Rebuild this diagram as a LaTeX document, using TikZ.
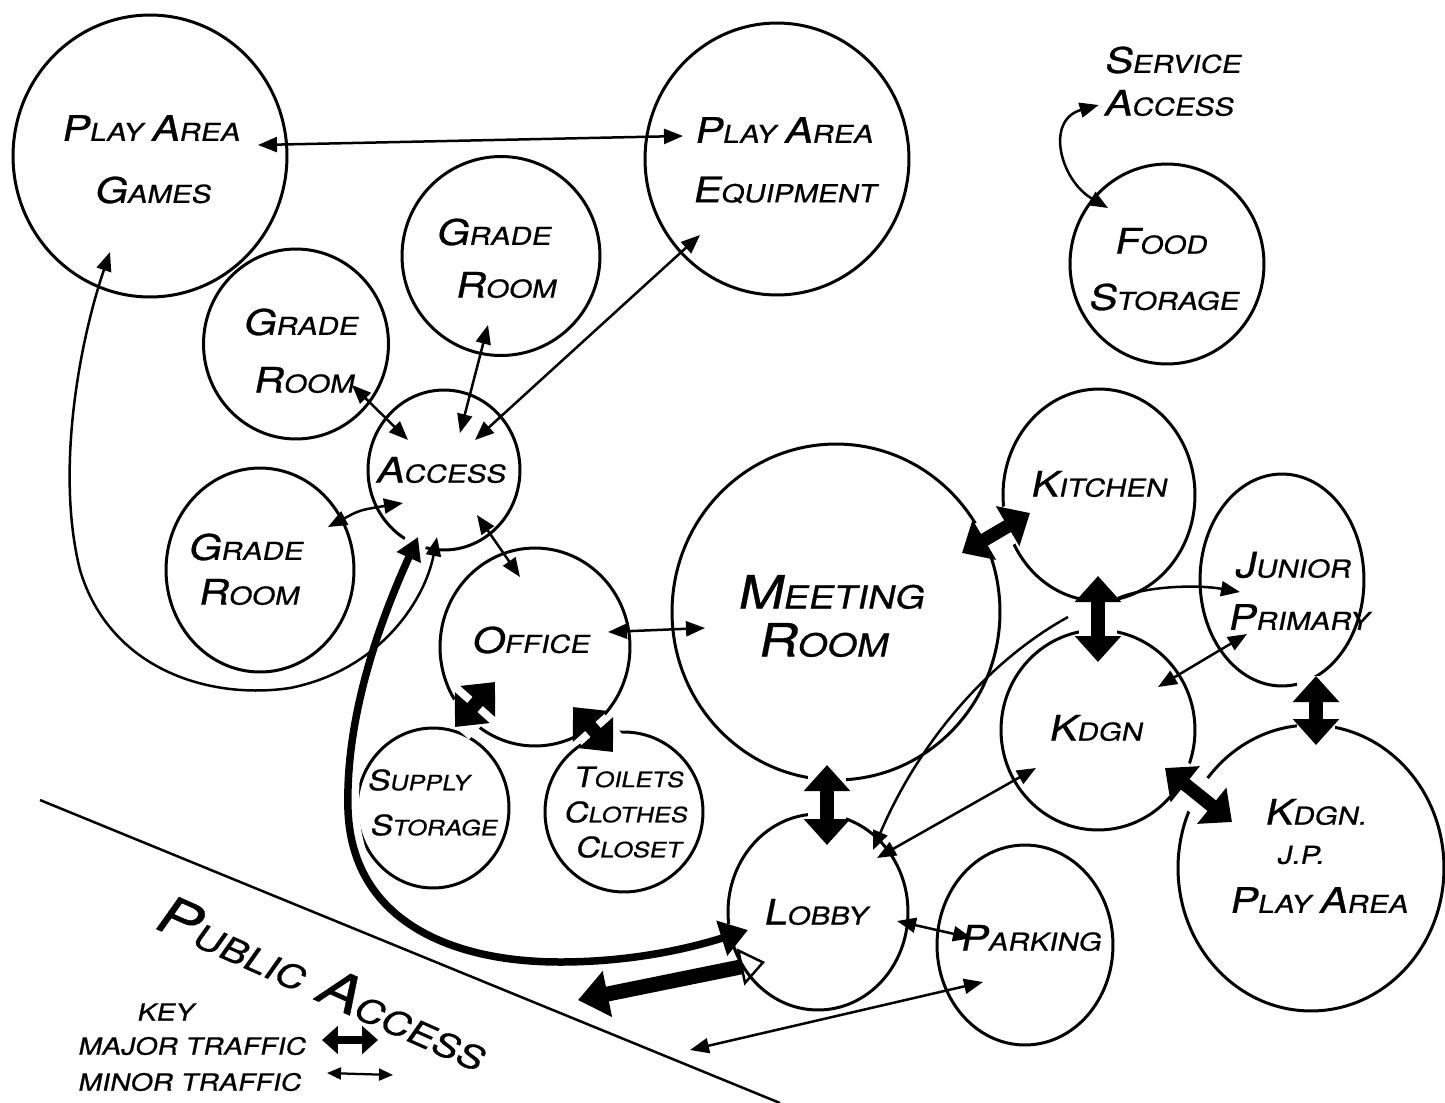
\documentclass[tikz,border=0pt]{standalone}
\usepackage{fontspec}
\setmainfont{TeX Gyre Heros}[FakeStretch=1.2,FakeSlant=0.2,FakeBold=0.8]
\usetikzlibrary{shapes.geometric,arrows.meta,calc}
\newcommand\Ca[1]{{\fontsize{20}{20}\selectfont #1}}
\newcommand\Cb[1]{{\fontsize{26}{26}\selectfont #1}}
\newcommand\Cs[1]{{\fontsize{16}{16}\selectfont #1}}
\newcommand\Cp[1]{{\fontsize{30}{30}\selectfont #1}}
\tikzset{
  room/.style={draw, ellipse, line width=0.06cm, inner sep=0pt},
  lbl/.style={inner sep=0pt, font=\fontsize{14}{14}\selectfont},
  lblbig/.style={inner sep=0pt, font=\fontsize{18}{18}\selectfont},
  lblsmall/.style={inner sep=0pt, font=\fontsize{12}{12}\selectfont},
  lblkey/.style={inner sep=0pt, font=\fontsize{13.5}{13.5}\selectfont},
  minor/.style={line width=0.05cm, {Triangle[length=0.38cm,width=0.3cm]}-{Triangle[length=0.38cm,width=0.3cm]}},
  minorend/.style={line width=0.05cm, -{Triangle[length=0.38cm,width=0.3cm]}},
  major/.style={line width=0.27cm, {Triangle[length=0.52cm,width=0.9cm]}-{Triangle[length=0.52cm,width=0.9cm]}, preaction={draw=white, line width=0.75cm, -}},
  openmajor/.style={line width=0.3cm, {Triangle[open,line width=1.4pt,length=0.5cm,width=0.75cm]}-{Triangle[length=0.6cm,width=0.9cm]}},
  mainroute/.style={line width=0.15cm, {Triangle[length=0.45cm,width=0.5cm]}-{Triangle[length=0.55cm,width=0.7cm]}, preaction={draw=white, line width=0.45cm, -}},
  keymajor/.style={line width=0.16cm, {Triangle[length=0.32cm,width=0.55cm]}-{Triangle[length=0.32cm,width=0.55cm]}},
  keyminor/.style={line width=0.045cm, {Triangle[length=0.28cm,width=0.24cm]}-{Triangle[length=0.28cm,width=0.24cm]}},
}
\begin{document}
\begin{tikzpicture}[x=0.02cm,y=-0.02cm]
\useasboundingbox (0,0) rectangle (1445,1103);
\fill[white] (0,0) rectangle (1445,1103);
% public access boundary
\coordinate (pl1) at (40,800);
\coordinate (pl2) at (780,1103);
\draw[line width=0.05cm] (pl1) -- (pl2);
% rooms
\node[room, minimum width=5.48cm, minimum height=5.64cm] (pag) at (150,156) {};
\node[room, minimum width=5.28cm, minimum height=5.44cm] (pae) at (777,159) {};
\node[room, minimum width=3.96cm, minimum height=3.98cm] (gr1) at (501,256) {};
\node[room, minimum width=3.70cm, minimum height=3.80cm] (gr2) at (296,344) {};
\node[room, minimum width=3.04cm, minimum height=3.20cm] (acc) at (444,470) {};
\node[room, minimum width=3.76cm, minimum height=4.08cm] (gr3) at (260,570) {};
\node[room, minimum width=3.80cm, minimum height=3.96cm] (off) at (535,647) {};
\node[room, minimum width=3.04cm, minimum height=3.20cm] (sup) at (433,808) {};
\node[room, minimum width=3.16cm, minimum height=3.20cm] (toi) at (624,812) {};
\node[room, minimum width=6.56cm, minimum height=6.72cm] (mtg) at (836,612) {};
\node[room, minimum width=3.84cm, minimum height=4.24cm] (kit) at (1099,495) {};
\node[room, minimum width=3.88cm, minimum height=4.00cm] (food) at (1167,264) {};
\node[room, minimum width=3.28cm, minimum height=4.24cm] (jp) at (1282,580) {};
\node[room, minimum width=3.88cm, minimum height=4.00cm] (kdg) at (1098,730) {};
\node[room, minimum width=5.32cm, minimum height=5.72cm] (kjp) at (1311,868) {};
\node[room, minimum width=3.60cm, minimum height=3.92cm] (lob) at (818,912) {};
\node[room, minimum width=3.52cm, minimum height=4.00cm] (park) at (1025,945) {};
% service access label (used as an arrow end)
\node[lbl] (svc1) at (1172,60) {\Ca{S}ERVICE};
\node[lbl] (svc2) at (1168,103) {\Ca{A}CCESS};
\coordinate (pub1) at (578,1000);
\coordinate (pub2) at (690,1050);
% major traffic
\draw[major] ($(off)+(-40,35)$) -- ($(sup)+(22,-81)$);
\draw[major] ($(off)+(38,60)$) -- ($(toi)+(-11,-60)$);
\draw[mainroute] ($(acc)+(-26,67)$) .. controls (385,610) and (345,710) .. (348,810) .. controls (352,920) and (450,962) .. (560,962) .. controls (640,962) and (700,945) .. ($(lob)+(-70,18)$);
\draw[openmajor] ($(lob)+(-53,50)$) -- (pub1);
\draw[major] ($(mtg)+(126,-59)$) -- ($(kit)+(-69,18)$);
\draw[major] ($(mtg)+(-9,153)$) -- ($(lob)+(9,-67)$);
\draw[major] ($(kit)+(-1,81)$) -- ($(kdg)+(0,-68)$);
\draw[major] ($(jp)+(34,96)$) -- ($(kjp)+(5,-123)$);
\draw[major] ($(kdg)+(67,38)$) -- ($(kjp)+(-79,-46)$);
% minor traffic
\draw[minor] ($(pag)+(108,-11)$) -- ($(pae)+(-94,-23)$);
\draw[minor] ($(pag)+(-40,96)$) .. controls (80,340) and (55,470) .. (80,570) .. controls (110,670) and (210,700) .. (290,688) .. controls (380,670) and (425,600) .. ($(acc)+(-7,67)$);
\draw[minor] ($(gr2)+(56,41)$) -- ($(acc)+(-36,-30)$);
\draw[minor] ($(gr1)+(-13,69)$) -- ($(acc)+(16,-37)$);
\draw[minor] ($(pae)+(-77,76)$) -- ($(acc)+(31,-30)$);
\draw[minor] ($(gr3)+(68,-43)$) .. controls (360,510) .. ($(acc)+(-41,33)$);
\draw[minor] ($(acc)+(33,45)$) -- ($(off)+(-15,-70)$);
\draw[minor] ($(off)+(73,-15)$) -- ($(mtg)+(-131,16)$);
\draw[minorend] ($(kit)+(19,103)$) .. controls (1150,585) and (1200,585) .. ($(jp)+(-42,12)$);
\draw[minor] ($(jp)+(-35,54)$) -- ($(kdg)+(60,-43)$);
\draw[minor] ($(kdg)+(-62,38)$) -- ($(lob)+(59,-54)$);
\draw[minorend] ($(kit)+(-31,122)$) .. controls (990,660) and (920,740) .. ($(lob)+(55,-62)$);
\draw[minor] ($(lob)+(79,9)$) -- ($(park)+(-53,-7)$);
\draw[minor] ($(park)+(-42,37)$) -- (pub2);
\draw[minor] ($(food)+(-59,-56)$) .. controls (1060,180) and (1045,120) .. ($(svc2.west)+(-4,2)$);
% labels
\node[lbl] (t-pag1) at (150,128) {\Ca{P}LAY \Ca{A}REA};
\node[lbl] (t-pag2) at (152,190) {\Ca{G}AMES};
\node[lbl] (t-pae1) at (783,130) {\Ca{P}LAY \Ca{A}REA};
\node[lbl] (t-pae2) at (784,190) {\Ca{E}QUIPMENT};
\node[lbl] (t-gr1a) at (493,232) {\Ca{G}RADE};
\node[lbl] (t-gr1b) at (505,285) {\Ca{R}OOM};
\node[lbl] (t-gr2a) at (300,322) {\Ca{G}RADE};
\node[lbl] (t-gr2b) at (303,380) {\Ca{R}OOM};
\node[lbl] (t-acc) at (440,470) {\Ca{A}CCESS};
\node[lbl] (t-gr3a) at (245,547) {\Ca{G}RADE};
\node[lbl] (t-gr3b) at (248,592) {\Ca{R}OOM};
\node[lbl] (t-off) at (530,640) {\Ca{O}FFICE};
\node[lblsmall] (t-sup1) at (418,780) {\Cs{S}UPPLY};
\node[lblsmall] (t-sup2) at (433,825) {\Cs{S}TORAGE};
\node[lblsmall] (t-toi1) at (628,777) {\Cs{T}OILETS};
\node[lblsmall] (t-toi2) at (625,812) {\Cs{C}LOTHES};
\node[lblsmall] (t-toi3) at (628,847) {\Cs{C}LOSET};
\node[lblbig] (t-mtg1) at (830,592) {\Cb{M}EETING};
\node[lblbig] (t-mtg2) at (822,640) {\Cb{R}OOM};
\node[lbl] (t-kit) at (1098,484) {\Ca{K}ITCHEN};
\node[lbl] (t-food1) at (1160,241) {\Ca{F}OOD};
\node[lbl] (t-food2) at (1163,297) {\Ca{S}TORAGE};
\node[lbl] (t-jp1) at (1292,565) {\Ca{J}UNIOR};
\node[lbl] (t-jp2) at (1298,617) {\Ca{P}RIMARY};
\node[lbl] (t-kdg) at (1095,728) {\Ca{K}DGN};
\node[lbl] (t-kjp1) at (1315,812) {\Ca{K}DGN.};
\node[lbl] (t-kjp2) at (1300,855) {J.P.};
\node[lbl] (t-kjp3) at (1318,900) {\Ca{P}LAY \Ca{A}REA};
\node[lbl] (t-lob) at (815,912) {\Ca{L}OBBY};
\node[lbl] (t-park) at (1030,938) {\Ca{P}ARKING};
\node[inner sep=0pt, font=\fontsize{19}{19}\selectfont, rotate=-24] (t-pub1) at (232,942) {\Cp{P}UBLIC};
\node[inner sep=0pt, font=\fontsize{19}{19}\selectfont, rotate=-24] (t-pub2) at (402,1018) {\Cp{A}CCESS};
% key
\node[lblkey] (key) at (165,1012) {KEY};
\node[lblkey, anchor=west] (kmaj) at (77,1046) {MAJOR TRAFFIC};
\node[lblkey, anchor=west] (kmin) at (77,1082) {MINOR TRAFFIC};
\coordinate (k1a) at (322,1040);
\coordinate (k1b) at (378,1040);
\coordinate (k2a) at (327,1073);
\coordinate (k2b) at (393,1075);
\draw[keymajor] (k1a) -- (k1b);
\draw[keyminor] (k2a) -- (k2b);
\end{tikzpicture}
\end{document}
